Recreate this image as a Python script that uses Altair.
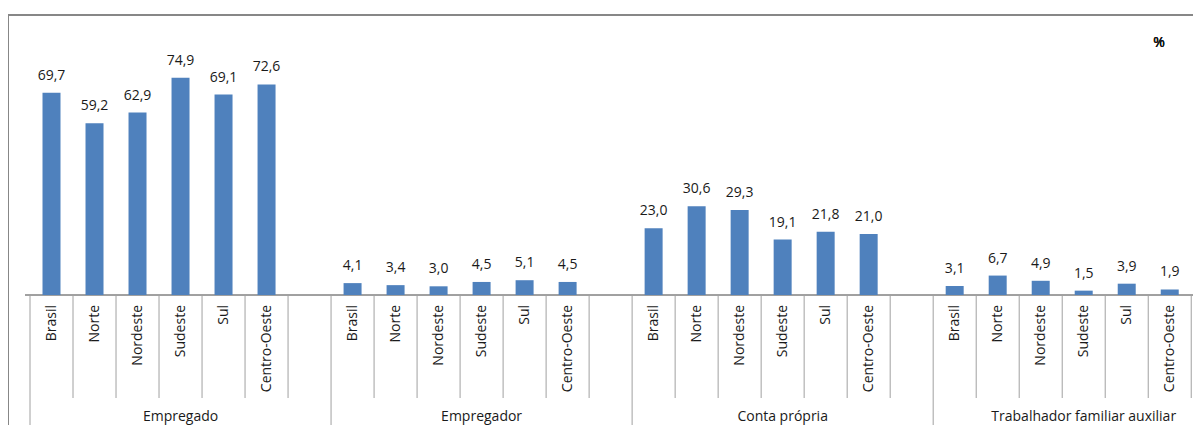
import altair as alt
import pandas as pd

groups = ["Empregado", "Empregador", "Conta própria", "Trabalhador familiar auxiliar"]
regions = ["Brasil", "Norte", "Nordeste", "Sudeste", "Sul", "Centro-Oeste"]
empregado = [69.7, 59.2, 62.9, 74.9, 69.1, 72.6]
empregador = [4.1, 3.4, 3.0, 4.5, 5.1, 4.5]
conta_propria = [23.0, 30.6, 29.3, 19.1, 21.8, 21.0]
trab_familiar = [3.1, 6.7, 4.9, 1.5, 3.9, 1.9]
unit_label = "%"

series = [empregado, empregador, conta_propria, trab_familiar]
slots_per_group = len(regions) + 1  # one blank slot after each group

rows = []
for g, (grp, vals) in enumerate(zip(groups, series)):
    for r, (reg, v) in enumerate(zip(regions, vals)):
        rows.append({
            "grupo": grp,
            "regiao": reg,
            "valor": v,
            "pos": g * slots_per_group + r + 0.5,
            "rotulo": f"{v:.1f}".replace(".", ","),
        })
df = pd.DataFrame(rows)

n_slots = slots_per_group * len(groups)
inner = pd.DataFrame({"b": [b for b in range(n_slots) if b % slots_per_group != 0]})
outer = pd.DataFrame({"b": [b for b in range(n_slots) if b % slots_per_group == 0]})
grp_df = pd.DataFrame({"grupo": groups,
                       "pos": [g * slots_per_group + slots_per_group / 2 for g in range(len(groups))]})

W, H = 1168, 261
SLOT = 43.38
FONT = "Open Sans"
TXT = "#1a1a1a"
LINE = "#a0a0a0"

xs = alt.Scale(domain=[0, W / SLOT], nice=False, zero=False)
ys = alt.Scale(domain=[0, 90], nice=False)

X = alt.X("pos:Q", scale=xs, axis=None)

bars = alt.Chart(df).mark_bar(color="#4F81BD", size=18).encode(
    x=X, y=alt.Y("valor:Q", scale=ys, axis=None)
)
vals = alt.Chart(df).mark_text(baseline="bottom", dy=-10, font=FONT, fontSize=14, color=TXT).encode(
    x=X, y=alt.Y("valor:Q", scale=ys, axis=None), text="rotulo:N"
)
cats = alt.Chart(df).mark_text(angle=270, align="right", baseline="middle", font=FONT,
                               fontSize=14, color=TXT).encode(
    x=X, y=alt.value(H + 10), text="regiao:N"
)
inner_rules = alt.Chart(inner).mark_rule(color=LINE, strokeWidth=1).encode(
    x=alt.X("b:Q", scale=xs, axis=None), y=alt.value(H), y2=alt.value(H + 103)
)
outer_rules = alt.Chart(outer).mark_rule(color=LINE, strokeWidth=1).encode(
    x=alt.X("b:Q", scale=xs, axis=None), y=alt.value(H), y2=alt.value(H + 135)
)
baseline = alt.Chart(df).mark_rule(color=LINE, strokeWidth=1).encode(
    x=alt.value(0), x2=alt.value(W), y=alt.value(H)
)
glabels = alt.Chart(grp_df).mark_text(baseline="middle", font=FONT, fontSize=14, color=TXT).encode(
    x=alt.X("pos:Q", scale=xs, axis=None), y=alt.value(H + 122), text="grupo:N"
)
frame_top = alt.Chart(grp_df).mark_rule(color="#878787", strokeWidth=2).encode(
    x=alt.value(-17), x2=alt.value(W), y=alt.value(-19)
)
frame_left = alt.Chart(grp_df).mark_rule(color="#878787", strokeWidth=2).encode(
    x=alt.value(-17), y=alt.value(-19), y2=alt.value(H + 135)
)
pct = alt.Chart(grp_df).mark_text(font=FONT, fontSize=14, color=TXT, baseline="middle").encode(
    x=alt.value(1134), y=alt.value(9), text=alt.value(unit_label)
)

chart = alt.layer(
    frame_top, frame_left, inner_rules, outer_rules, baseline, bars, vals, cats, glabels, pct
).properties(
    width=W, height=H, autosize="none",
    padding={"left": 17, "top": 26, "right": 0, "bottom": 130},
).configure_view(stroke=None)

chart.save("out.html", embed_options={"renderer": "svg", "actions": False})
